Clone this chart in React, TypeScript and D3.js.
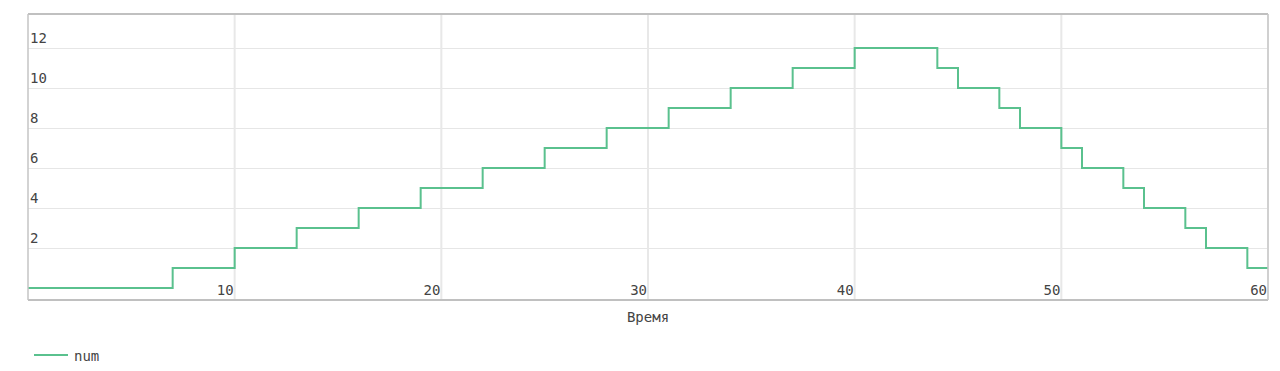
import { useMemo } from "react";
import * as d3 from "d3";

// minutes from 0 to 60, one value each (step plot)
const minutes = d3.range(0, 61);
const num = [
  0, 0, 0, 0, 0, 0, 0, 1, 1, 1,
  2, 2, 2, 3, 3, 3, 4, 4, 4, 5,
  5, 5, 6, 6, 6, 7, 7, 7, 8, 8,
  8, 9, 9, 9, 10, 10, 10, 11, 11, 11,
  12, 12, 12, 12, 11, 10, 10, 9, 8, 8,
  7, 6, 6, 5, 4, 4, 3, 2, 2, 1,
  1,
];
const xTicks = [10, 20, 30, 40, 50, 60];
const yTicks = [2, 4, 6, 8, 10, 12];
const seriesName = "num";
const xLabel = "Время";

const width = 1280;
const height = 371;
const margin = { top: 14, right: 12, bottom: 71, left: 28 };
const lineColor = "#5ac18e";
const font = "'DejaVu Sans Mono', monospace";

export default function App() {
  const innerW = width - margin.left - margin.right;
  const innerH = height - margin.top - margin.bottom;

  const { x, y, path } = useMemo(() => {
    const x = d3.scaleLinear().domain([0, 60]).range([0, innerW]);
    const y = d3.scaleLinear().domain([-0.6, 13.7]).range([innerH, 0]);
    const line = d3
      .line<number>()
      .x((_, i) => x(minutes[i]))
      .y(d => y(d))
      .curve(d3.curveStepAfter);
    return { x, y, path: line(num) ?? "" };
  }, [innerW, innerH]);

  return (
    <svg
      width={width}
      height={height}
      style={{ position: "absolute", left: 0, top: 0, background: "#fff" }}
      fontFamily={font}
    >
      <g transform={`translate(${margin.left},${margin.top})`}>
        {yTicks.map(t => (
          <line key={"gy" + t} x1={0} x2={innerW} y1={y(t) + 0.5} y2={y(t) + 0.5} stroke="#e6e6e6" />
        ))}
        {xTicks.map(t => (
          <line key={"gx" + t} x1={x(t)} x2={x(t)} y1={0} y2={innerH} stroke="#e8e8e8" strokeWidth={2} />
        ))}

        <path d={path} fill="none" stroke={lineColor} strokeWidth={2} />

        {/* frame */}
        <line x1={0} x2={innerW} y1={0} y2={0} stroke="#c0c0c0" strokeWidth={2} />
        <line x1={0} x2={innerW} y1={innerH} y2={innerH} stroke="#c0c0c0" strokeWidth={2} />
        <line x1={0} x2={0} y1={0} y2={innerH} stroke="#c4c4c4" strokeWidth={1.5} />
        <line x1={innerW} x2={innerW} y1={0} y2={innerH} stroke="#c8c8c8" strokeWidth={1.5} />

        {yTicks.map(t => (
          <text key={"ty" + t} x={2} y={y(t) - 5} fontSize={14} fill="#444">
            {t}
          </text>
        ))}
        {xTicks.map(t => (
          <text key={"tx" + t} x={x(t) - 1} y={innerH - 5} fontSize={14} fill="#444" textAnchor="end">
            {t}
          </text>
        ))}

        <text x={innerW / 2} y={innerH + 22} fontSize={14} fill="#444" textAnchor="middle">
          {xLabel}
        </text>
      </g>

      <g transform="translate(34,355)">
        <line x1={0} x2={34} y1={0} y2={0} stroke={lineColor} strokeWidth={2} />
        <text x={40} y={6} fontSize={14} fill="#444">
          {seriesName}
        </text>
      </g>
    </svg>
  );
}
